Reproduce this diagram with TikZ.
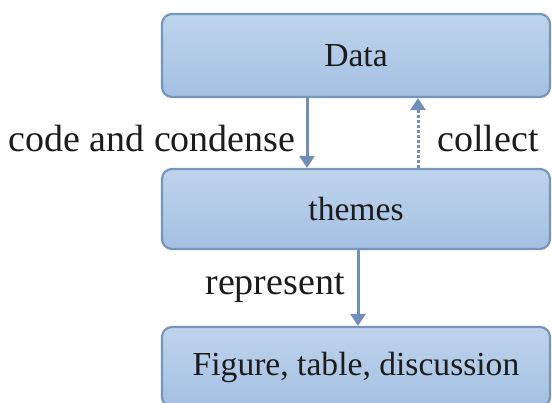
\documentclass[tikz,border=0pt]{standalone}
\usepackage{fontspec}
\setmainfont{Liberation Serif}
\usetikzlibrary{arrows.meta,calc}
\definecolor{boxtop}{HTML}{BFD4EC}
\definecolor{boxbot}{HTML}{A4C0E2}
\definecolor{boxline}{HTML}{7896BC}
\definecolor{arrowc}{HTML}{6F8FB8}
\definecolor{txt}{HTML}{1C1C1C}
\tikzset{
  box/.style={draw=boxline, line width=2.2pt, rounded corners=10pt,
    top color=boxtop, bottom color=boxbot, minimum width=388pt,
    inner sep=0pt, text=txt, font=\fontsize{33.6}{36}\selectfont},
  lbl/.style={text=txt, inner sep=0pt, font=\fontsize{38}{40}\selectfont},
  conn/.style={draw=arrowc, line width=3pt, -{Triangle[length=12pt,width=15pt]}},
  dotconn/.style={conn, dotted}
}
\begin{document}
\begin{tikzpicture}[x=1pt,y=-1pt]
\useasboundingbox (0,0) rectangle (552,403);
\begin{scope}
\clip (0,0) rectangle (552,403);
\node[box, minimum height=83pt] (data) at (356,55.5) {Data};
\node[box, minimum height=80pt] (themes) at (356,209) {themes};
\node[box, minimum height=80pt] (fig) at (356,367) {Figure, table, discussion};
\end{scope}
\coordinate (xa) at (307,0);
\coordinate (xb) at (418,0);
\coordinate (xc) at (358,0);
\draw[conn] (data.south -| xa) -- (themes.north -| xa);
\draw[dotconn] (themes.north -| xb) -- (data.south -| xb);
\draw[conn] (themes.south -| xc) -- (fig.north -| xc);
\node[lbl] (l1) at (152,139) {code and condense};
\node[lbl] (l2) at (488,139) {collect};
\node[lbl] (l3) at (275,288) {represent};
\end{tikzpicture}
\end{document}
